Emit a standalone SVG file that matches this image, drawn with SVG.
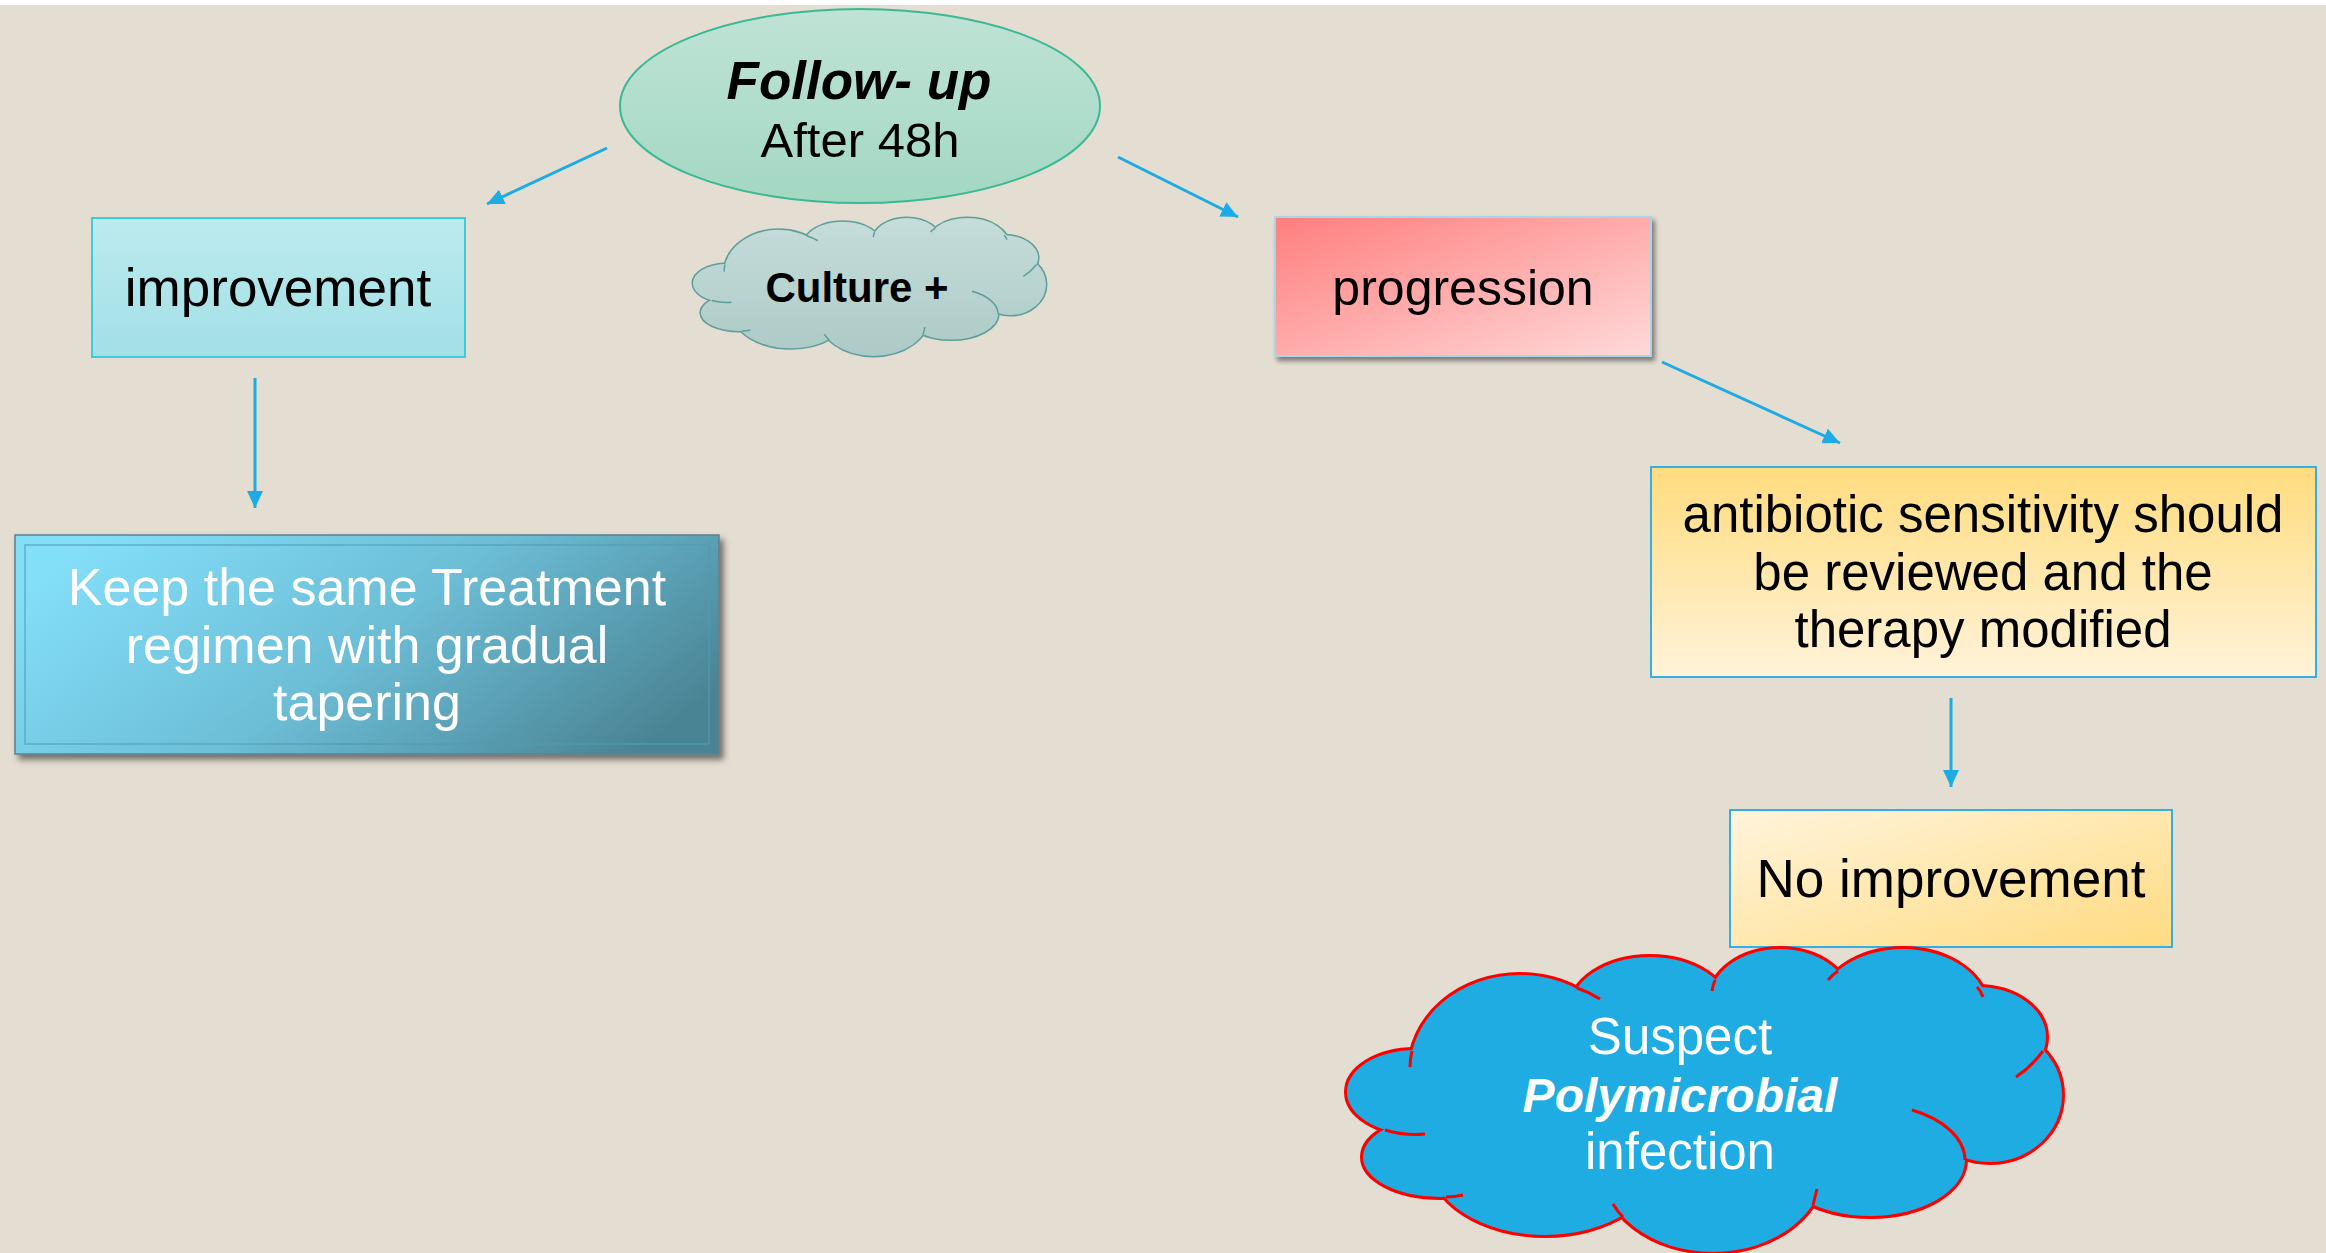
<svg xmlns="http://www.w3.org/2000/svg" width="2326" height="1253" viewBox="0 0 2326 1253">
<style>
text{font-family:"Liberation Sans",Arial,sans-serif;text-anchor:middle}
.conn line{stroke:#1EABE3;stroke-width:3;marker-end:url(#ah)}
.dark{fill:#000}
.white{fill:#fff}
.box{stroke-width:2}
</style>
<defs>
<marker id="ah" markerUnits="userSpaceOnUse" markerWidth="18" markerHeight="16" refX="17" refY="8" orient="auto"><path d="M0,0 L17,8 L0,16 z" fill="#1EABE3"/></marker>
<linearGradient id="gEll" x1="0" y1="0" x2="0" y2="1"><stop offset="0" stop-color="#BFE3D6"/><stop offset="1" stop-color="#A3D8C3"/></linearGradient>
<linearGradient id="gImp" x1="0" y1="0" x2="0" y2="1"><stop offset="0" stop-color="#BCEBEF"/><stop offset="1" stop-color="#A2DFE6"/></linearGradient>
<linearGradient id="gKeep" x1="0" y1="0.3" x2="1" y2="0.7"><stop offset="0" stop-color="#83DEF8"/><stop offset="0.5" stop-color="#6CBDD6"/><stop offset="1" stop-color="#4A8494"/></linearGradient>
<linearGradient id="gProg" x1="0" y1="0" x2="1" y2="1"><stop offset="0" stop-color="#FF7E7E"/><stop offset="1" stop-color="#FFD9D9"/></linearGradient>
<linearGradient id="gAnti" x1="0" y1="0" x2="0" y2="1"><stop offset="0" stop-color="#FFDC7E"/><stop offset="1" stop-color="#FFF3DA"/></linearGradient>
<linearGradient id="gNo" x1="0" y1="0" x2="1" y2="1"><stop offset="0" stop-color="#FFF4DC"/><stop offset="1" stop-color="#FFDC82"/></linearGradient>
<linearGradient id="gCul" gradientUnits="userSpaceOnUse" x1="0" y1="0" x2="0" y2="303"><stop offset="0" stop-color="#C6DDDA"/><stop offset="1" stop-color="#ACCAC7"/></linearGradient>
<filter id="sh1" x="-10%" y="-10%" width="130%" height="140%"><feDropShadow dx="3" dy="4" stdDeviation="2.5" flood-color="#000" flood-opacity="0.45"/></filter>
<filter id="sh2" x="-10%" y="-10%" width="130%" height="140%"><feDropShadow dx="4" dy="5" stdDeviation="3" flood-color="#000" flood-opacity="0.5"/></filter>
<g id="cloudE">
<ellipse vector-effect="non-scaling-stroke" cx="70" cy="143" rx="68" ry="42"/>
<ellipse vector-effect="non-scaling-stroke" cx="95" cy="208" rx="77" ry="40"/>
<ellipse vector-effect="non-scaling-stroke" cx="200" cy="211" rx="115" ry="75"/>
<ellipse vector-effect="non-scaling-stroke" cx="368" cy="216" rx="112" ry="87"/>
<ellipse vector-effect="non-scaling-stroke" cx="525" cy="211" rx="95" ry="56"/>
<ellipse vector-effect="non-scaling-stroke" cx="645" cy="146" rx="72" ry="67"/>
<ellipse vector-effect="non-scaling-stroke" cx="633" cy="88" rx="68" ry="50"/>
<ellipse vector-effect="non-scaling-stroke" cx="558" cy="61" rx="85" ry="61"/>
<ellipse vector-effect="non-scaling-stroke" cx="435" cy="51" rx="70" ry="51"/>
<ellipse vector-effect="non-scaling-stroke" cx="305" cy="61" rx="80" ry="53"/>
<ellipse vector-effect="non-scaling-stroke" cx="175" cy="121" rx="110" ry="95"/>
<ellipse vector-effect="non-scaling-stroke" cx="355" cy="151" rx="260" ry="100"/>
</g>
<g id="cloudH">
<path vector-effect="non-scaling-stroke" d="M67,102 Q65,110 65,118"/>
<path vector-effect="non-scaling-stroke" d="M40,181 Q60,187 80,185"/>
<path vector-effect="non-scaling-stroke" d="M101,248 Q110,248 118,246"/>
<path vector-effect="non-scaling-stroke" d="M278,268 Q272,262 268,255"/>
<path vector-effect="non-scaling-stroke" d="M468,256 Q470,248 472,240"/>
<path vector-effect="non-scaling-stroke" d="M620,211 A95,56 0 0 0 567,161"/>
<path vector-effect="non-scaling-stroke" d="M698,102 Q686,118 671,128"/>
<path vector-effect="non-scaling-stroke" d="M632,38 Q636,42 638,48"/>
<path vector-effect="non-scaling-stroke" d="M493,22 Q487,26 483,31"/>
<path vector-effect="non-scaling-stroke" d="M370,31 Q368,36 367,42"/>
<path vector-effect="non-scaling-stroke" d="M232,39 Q244,43 255,50"/>
</g>
</defs>
<rect x="0" y="0" width="2326" height="1253" fill="#E4DDD2"/>
<rect x="0" y="0" width="2326" height="5" fill="#FFFFFF"/>

<g class="conn" id="connectors">
<line x1="607" y1="148" x2="487" y2="204"/>
<line x1="1118" y1="157" x2="1238" y2="217"/>
<line x1="255" y1="378" x2="255" y2="508"/>
<line x1="1662" y1="362" x2="1840" y2="443"/>
<line x1="1951" y1="698" x2="1951" y2="787"/>
</g>

<g id="followup">
<ellipse cx="860" cy="106" rx="240" ry="97" fill="url(#gEll)" stroke="#3BB894" stroke-width="2"/>
<text x="859" y="99" font-size="53" font-weight="bold" font-style="italic" class="dark">Follow- up</text>
<text x="860" y="157" font-size="49" class="dark">After 48h</text>
</g>

<g id="culture" transform="translate(692,218) scale(0.4937,0.4554)">
<use href="#cloudE" fill="none" stroke="#5E9E9A" stroke-width="3"/>
<use href="#cloudE" fill="url(#gCul)" stroke="none"/>
<use href="#cloudH" fill="none" stroke="#5E9E9A" stroke-width="1.5"/>
</g>
<text x="857" y="302" font-size="42" font-weight="bold" class="dark">Culture +</text>

<g id="improvement">
<rect class="box" x="92" y="218" width="373" height="139" fill="url(#gImp)" stroke="#3CCCDD"/>
<text x="278" y="306" font-size="53" class="dark">improvement</text>
</g>

<g id="keep">
<rect x="15" y="535" width="704" height="219" fill="url(#gKeep)" stroke="#5F7F8A" stroke-width="1.5" filter="url(#sh2)"/>
<rect x="25" y="545" width="684" height="199" fill="none" stroke="#4F9DB3" stroke-opacity="0.7" stroke-width="1.5"/>
<text x="367" y="605" font-size="52" class="white">Keep the same Treatment</text>
<text x="367" y="663" font-size="52" class="white">regimen with gradual</text>
<text x="367" y="720" font-size="52" class="white">tapering</text>
</g>

<g id="progression">
<rect class="box" x="1275" y="217" width="376" height="139" fill="url(#gProg)" stroke="#A9D6E6" filter="url(#sh1)"/>
<text x="1463" y="305" font-size="50" class="dark">progression</text>
</g>

<g id="antibiotic">
<rect class="box" x="1651" y="467" width="665" height="210" fill="url(#gAnti)" stroke="#35AEE2"/>
<text x="1983" y="532" font-size="51" class="dark">antibiotic sensitivity should</text>
<text x="1983" y="590" font-size="51" class="dark">be reviewed and the</text>
<text x="1983" y="647" font-size="51" class="dark">therapy modified</text>
</g>

<g id="noimprovement">
<rect class="box" x="1730" y="810" width="442" height="137" fill="url(#gNo)" stroke="#35AEE2"/>
<text x="1951" y="897" font-size="53" class="dark">No improvement</text>
</g>

<g id="suspect" transform="translate(1345,949)">
<use href="#cloudE" fill="none" stroke="#FF0000" stroke-width="6"/>
<use href="#cloudE" fill="#1EACE2" stroke="none"/>
<use href="#cloudH" fill="none" stroke="#FF0000" stroke-width="3"/>
</g>
<text x="1680" y="1054" font-size="51" class="white">Suspect</text>
<text x="1680" y="1112" font-size="48" font-weight="bold" font-style="italic" class="white">Polymicrobial</text>
<text x="1680" y="1169" font-size="51" class="white">infection</text>
</svg>
